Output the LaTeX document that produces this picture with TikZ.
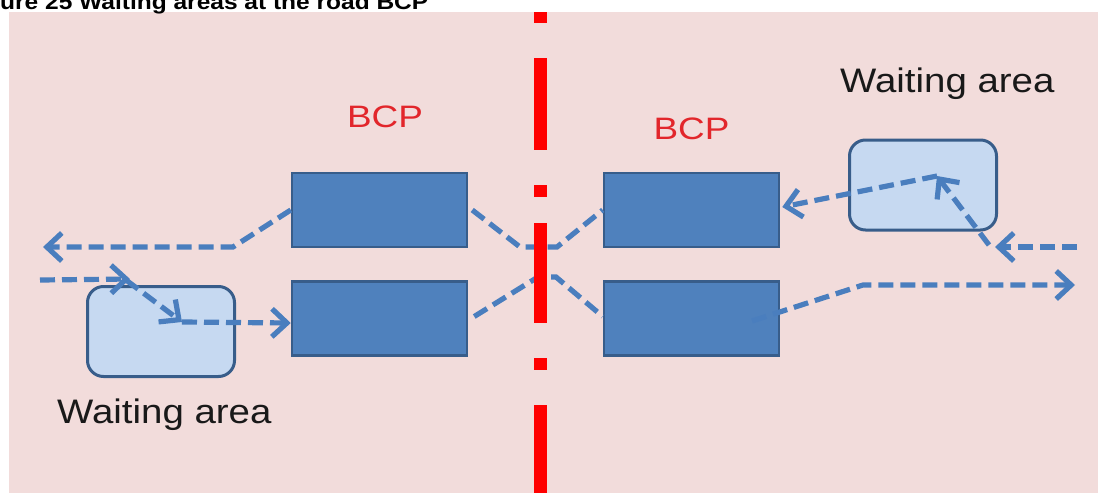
\documentclass[tikz,border=0pt]{standalone}
\usepackage{fontspec}
\usepackage{graphicx}
\setmainfont{Liberation Sans}
\usetikzlibrary{arrows.meta,calc}
\definecolor{bgpink}{HTML}{F2DCDB}
\definecolor{boxblue}{HTML}{4F81BD}
\definecolor{boxedge}{HTML}{385D8A}
\definecolor{waitfill}{HTML}{C6D9F1}
\definecolor{flowblue}{HTML}{4A7EBE}
\definecolor{bcpred}{HTML}{E2262B}
\begin{document}
\begin{tikzpicture}[x=1pt,y=-1pt,
  bcpbox/.style={draw=boxedge,fill=boxblue,line width=2.5pt,inner sep=0pt,
    minimum width=175pt,minimum height=74pt},
  waitbox/.style={draw=boxedge,fill=waitfill,line width=3pt,rounded corners=16pt,
    inner sep=0pt,minimum width=147pt,minimum height=90pt},
  flow/.style={draw=flowblue,line width=5.2pt,dash pattern=on 15pt off 7pt},
  flowarrow/.style={flow,-{Straight Barb[length=15pt,width=28pt]}},
  bcplabel/.style={text=bcpred,inner sep=0pt,anchor=base,font=\fontsize{31}{36}\selectfont},
  waitlabel/.style={text=black!90,inner sep=0pt,anchor=base west,font=\fontsize{34}{40}\selectfont},
  borderseg/.style={fill=red,draw=none}
]
\useasboundingbox (0,0) rectangle (1098,493);
\clip (0,0) rectangle (1098,493);
\fill[white] (0,0) rectangle (1098,493);
\fill[bgpink] (9,12) rectangle (1098,493);

% title (cut at the top)
\node[inner sep=0pt,anchor=base west,font=\bfseries\fontsize{21.5}{26}\selectfont] (title) at (0,9) {\scalebox{1.14}[1]{ure 25 Waiting areas at the road BCP}};

% boxes
\node[bcpbox] (tl) at (379.5,210) {};
\node[bcpbox] (bl) at (379.5,318.5) {};
\node[bcpbox] (tr) at (691.5,210) {};
\node[bcpbox] (br) at (691.5,318.5) {};
\node[waitbox] (wl) at (161,331.5) {};
\node[waitbox] (wr) at (923,185) {};

% labels
\node[bcplabel] (bcpl) at (385,127) {\scalebox{1.19}[1]{BCP}};
\node[bcplabel] (bcpr) at (691.5,139) {\scalebox{1.19}[1]{BCP}};
\node[waitlabel] (wlt) at (57,423) {\scalebox{1.13}[1]{Waiting area}};
\node[waitlabel] (wrt) at (840,92) {\scalebox{1.13}[1]{Waiting area}};

% coordinates
\coordinate (a1) at (233,247);
\coordinate (a2) at (43,247);
\coordinate (b0) at (40,280);
\coordinate (b1) at (130,279);
\coordinate (b2) at (126,280);
\coordinate (c1) at (182,322);
\coordinate (e1) at (520,247);
\coordinate (e2) at (557,247);
\coordinate (f1) at (538,277);
\coordinate (f2) at (556,277);
\coordinate (g0) at (1077,247);
\coordinate (g1) at (995,247);
\coordinate (g2) at (989,245);
\coordinate (h1) at (937,176);
\coordinate (j0) at (752,321);
\coordinate (j1) at (863,285);
\coordinate (j2) at (1075,285);

% flows
\draw[flowarrow] (tl.west) -- (a1) -- (a2);
\draw[flowarrow] (b0) -- (b1);
\draw[flowarrow] (b2) -- (c1);
\draw[flowarrow] (c1) -- ($(c1 -| bl.west)+(0,1)$);
\draw[flow] ($(tl.east)+(4,0)$) -- (e1) -- (e2) -- (tr.west);
\draw[flow] ($(bl.east)+(6,-2)$) -- (f1) -- (f2) -- ($(br.west)+(0,-2)$);
\draw[flowarrow] (g0) -- (g1);
\draw[flowarrow] (g2) -- (h1);
\draw[flowarrow] (h1) -- ($(tr.east)+(2,-3)$);
\draw[flowarrow] (j0) -- (j1) -- (j2);

% border line
\fill[borderseg] (533.5,12) rectangle (546.5,23);
\fill[borderseg] (533.5,58) rectangle (546.5,150);
\fill[borderseg] (533.5,185) rectangle (546.5,197);
\fill[borderseg] (533.5,223) rectangle (546.5,323);
\fill[borderseg] (533.5,358) rectangle (546.5,370);
\fill[borderseg] (533.5,405) rectangle (546.5,493);
\end{tikzpicture}
\end{document}
